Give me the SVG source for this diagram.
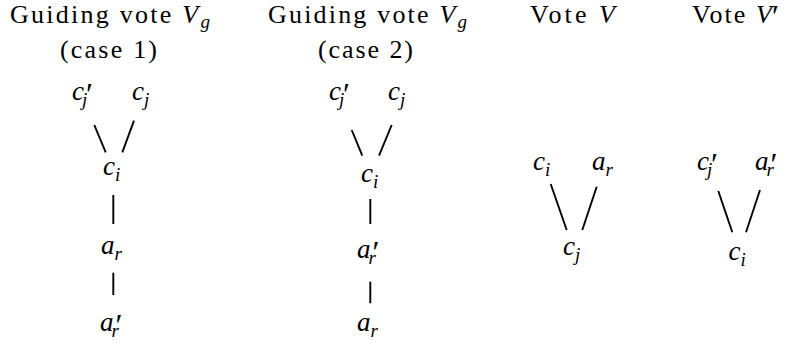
<svg xmlns="http://www.w3.org/2000/svg" width="787" height="345" viewBox="0 0 787 345">
<style>
.t{font-family:"Liberation Serif","Times New Roman","DejaVu Serif",serif;font-size:26px;fill:#000}
.m{font-family:"Liberation Serif","Times New Roman","DejaVu Serif",serif;font-size:27px;font-style:italic;fill:#000}
.s{font-size:19px;font-style:italic}
.p{font-size:32px;font-style:normal}
.e line{stroke:#000;stroke-width:1.9;stroke-linecap:butt}
</style>
<rect width="787" height="345" fill="#fff"/>
<g id="titles">
<text class="t" x="10" y="23" textLength="200">Guiding vote <tspan font-style="italic">V</tspan><tspan class="s" dy="5">g</tspan></text>
<text class="t" x="60" y="57.5" textLength="97">(case 1)</text>
<text class="t" x="268" y="23" textLength="199">Guiding vote <tspan font-style="italic">V</tspan><tspan class="s" dy="5">g</tspan></text>
<text class="t" x="318" y="57.5" textLength="95">(case 2)</text>
<text class="t" x="530" y="23" textLength="85">Vote <tspan font-style="italic">V</tspan></text>
<text class="t" x="692" y="23" textLength="87">Vote <tspan font-style="italic">V</tspan><tspan class="p" dx="-2" dy="4">′</tspan></text>
</g>
<g id="n1-cjp"><text class="m" x="72" y="100">c<tspan class="p" dx="2" dy="5">′</tspan><tspan class="s" dx="-11" dy="1">j</tspan></text></g>
<g id="n1-cj"><text class="m" x="132" y="100">c<tspan class="s" dy="6">j</tspan></text></g>
<g id="n1-ci"><text class="m" x="103" y="175">c<tspan class="s" dy="6">i</tspan></text></g>
<g id="n1-ar"><text class="m" x="101" y="254">a<tspan class="s" dy="6">r</tspan></text></g>
<g id="n1-arp"><text class="m" x="100" y="330.5">a<tspan class="p" dx="2" dy="5">′</tspan><tspan class="s" dx="-11" dy="1">r</tspan></text></g>
<g id="n2-cjp"><text class="m" x="329" y="100">c<tspan class="p" dx="2" dy="5">′</tspan><tspan class="s" dx="-11" dy="1">j</tspan></text></g>
<g id="n2-cj"><text class="m" x="388" y="100">c<tspan class="s" dy="6">j</tspan></text></g>
<g id="n2-ci"><text class="m" x="361" y="181.5">c<tspan class="s" dy="6">i</tspan></text></g>
<g id="n2-arp"><text class="m" x="357" y="258">a<tspan class="p" dx="2" dy="5">′</tspan><tspan class="s" dx="-11" dy="1">r</tspan></text></g>
<g id="n2-ar"><text class="m" x="357" y="330.5">a<tspan class="s" dy="6">r</tspan></text></g>
<g id="n3-ci"><text class="m" x="533" y="170">c<tspan class="s" dy="6">i</tspan></text></g>
<g id="n3-ar"><text class="m" x="592" y="170">a<tspan class="s" dy="6">r</tspan></text></g>
<g id="n3-cj"><text class="m" x="563" y="255">c<tspan class="s" dy="6">j</tspan></text></g>
<g id="n4-cjp"><text class="m" x="697" y="170">c<tspan class="p" dx="2" dy="5">′</tspan><tspan class="s" dx="-11" dy="1">j</tspan></text></g>
<g id="n4-arp"><text class="m" x="755" y="170">a<tspan class="p" dx="2" dy="5">′</tspan><tspan class="s" dx="-11" dy="1">r</tspan></text></g>
<g id="n4-ci"><text class="m" x="728.5" y="260">c<tspan class="s" dy="6">i</tspan></text></g>
<g id="connectors" class="e">
<line x1="94.3" y1="125" x2="105.7" y2="152.3"/>
<line x1="134" y1="120.7" x2="122.3" y2="152.3"/>
<line x1="113.3" y1="195" x2="113.3" y2="224"/>
<line x1="113.3" y1="272.7" x2="113.3" y2="295"/>
<line x1="351.7" y1="130" x2="362.3" y2="155.7"/>
<line x1="391.7" y1="125" x2="379" y2="155.7"/>
<line x1="370.3" y1="199" x2="370.3" y2="224"/>
<line x1="370.3" y1="281.7" x2="370.3" y2="303.3"/>
<line x1="550.7" y1="184" x2="566.7" y2="230"/>
<line x1="596.7" y1="186.7" x2="582.3" y2="230"/>
<line x1="718.3" y1="191" x2="732.3" y2="232.3"/>
<line x1="760" y1="190" x2="746" y2="232.3"/>
</g>
</svg>
